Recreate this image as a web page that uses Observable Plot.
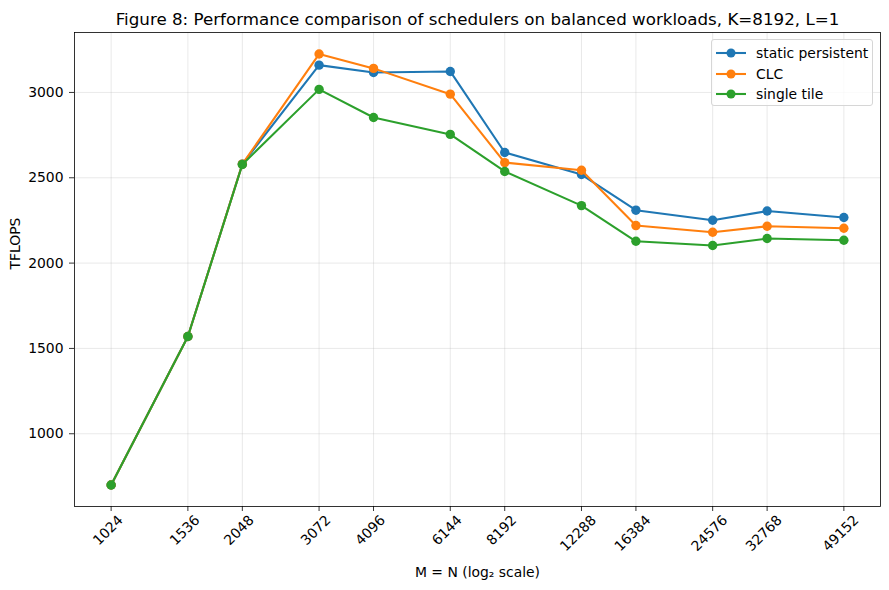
<!DOCTYPE html>
<html><head><meta charset="utf-8">
<script src="https://cdn.jsdelivr.net/npm/d3@7"></script>
<script src="https://cdn.jsdelivr.net/npm/@observablehq/plot@0.6"></script>
<style>
body{margin:0;background:#fff;font-family:"DejaVu Sans",sans-serif;}
#wrap{position:relative;width:889px;height:590px;}
#legend{position:absolute;left:711px;top:39px;width:162px;height:67px;border:1px solid #d6d6d6;border-radius:3px;background:rgba(255,255,255,0.8);box-sizing:border-box;}
.row{position:absolute;left:0;height:20px;display:flex;align-items:center;font-size:13.9px;color:#000;white-space:nowrap;}
.row svg{display:block;margin-right:9px;}
</style></head><body><div id="wrap"></div>
<script>
const sizes = [1024,1536,2048,3072,4096,6144,8192,12288,16384,24576,32768,49152];
const staticPersistent = [700,1570,2580,3160,3117,3123,2648,2519,2310,2251,2305,2267];
const clc = [700,1570,2580,3225,3141,2990,2589,2544,2220,2181,2216,2204];
const singleTile = [700,1570,2578,3018,2853,2754,2537,2337,2128,2103,2144,2134];
const seriesNames = ["static persistent","CLC","single tile"];
const seriesValues = [staticPersistent, clc, singleTile];
const colors = ["#1f77b4","#ff7f0e","#2ca02c"];
const yTicks = [1000,1500,2000,2500,3000];
const title = "Figure 8: Performance comparison of schedulers on balanced workloads, K=8192, L=1";
const xLabel = "M = N (log\u2082 scale)";
const yLabel = "TFLOPS";

const rows = seriesNames.flatMap((s, i) => sizes.map((n, j) => ({series: s, n, v: seriesValues[i][j]})));
const pad = 0.05 * Math.log2(sizes[sizes.length-1] / sizes[0]);
const allV = seriesValues.flat();
const vmin = d3.min(allV), vmax = d3.max(allV), vpad = 0.05 * (vmax - vmin);

const seriesMarks = seriesNames.flatMap((s, i) => [
  Plot.line(rows.filter(r => r.series === s), {x: "n", y: "v", stroke: colors[i], strokeWidth: 2.08}),
  Plot.dot(rows.filter(r => r.series === s), {x: "n", y: "v", r: 4.7, fill: colors[i], stroke: "none"})
]);

const chart = Plot.plot({
  width: 889, height: 590,
  marginTop: 32, marginBottom: 84, marginLeft: 74, marginRight: 9,
  style: {fontFamily: "DejaVu Sans", fontSize: "13.9px", background: "white", overflow: "visible"},
  x: {type: "log", base: 2, domain: [sizes[0] * 2 ** -pad, sizes[sizes.length-1] * 2 ** pad]},
  y: {domain: [vmin - vpad, vmax + vpad]},
  marks: [
    Plot.gridX(sizes, {stroke: "#b0b0b0", strokeOpacity: 0.35, strokeWidth: 0.8}),
    Plot.gridY(yTicks, {stroke: "#b0b0b0", strokeOpacity: 0.35, strokeWidth: 0.8}),
    Plot.axisX(sizes, {tickSize: 5, tickFormat: () => "", label: null, stroke: "black", strokeWidth: 0.8}),
    Plot.axisY(yTicks, {tickSize: 5, tickPadding: 6, tickFormat: d => String(d), label: null, stroke: "black", strokeWidth: 0.8, fontSize: 13.9}),
    Plot.text(sizes.filter(d => String(d).length <= 4), {x: d => d, text: d => String(d), frameAnchor: "bottom", dy: 27, rotate: -45, textAnchor: "middle", fontSize: 13.9}),
    Plot.text(sizes.filter(d => String(d).length > 4), {x: d => d, text: d => String(d), frameAnchor: "bottom", dy: 30, rotate: -45, textAnchor: "middle", fontSize: 13.9}),
    ...seriesMarks,
    Plot.frame({stroke: "black", strokeWidth: 0.8}),
    Plot.text([title], {frameAnchor: "top", dy: -8, lineAnchor: "bottom", fontSize: 16.7}),
    Plot.text([xLabel], {frameAnchor: "bottom", dy: 70, lineAnchor: "bottom", fontSize: 13.9}),
    Plot.text([yLabel], {frameAnchor: "left", dx: -59, rotate: -90, fontSize: 13.9})
  ]
});
const wrap = document.getElementById("wrap");
wrap.appendChild(chart);

const legend = document.createElement("div");
legend.id = "legend";
seriesNames.forEach((s, i) => {
  const row = document.createElement("div");
  row.className = "row";
  row.style.top = (3 + i * 20.5) + "px";
  row.style.left = "3px";
  row.innerHTML = `<svg width="32" height="20"><line x1="1" x2="31" y1="10" y2="10" stroke="${colors[i]}" stroke-width="2.08"/><circle cx="16" cy="10" r="4.5" fill="${colors[i]}"/></svg><span>${s}</span>`;
  legend.appendChild(row);
});
wrap.appendChild(legend);
</script></body></html>
